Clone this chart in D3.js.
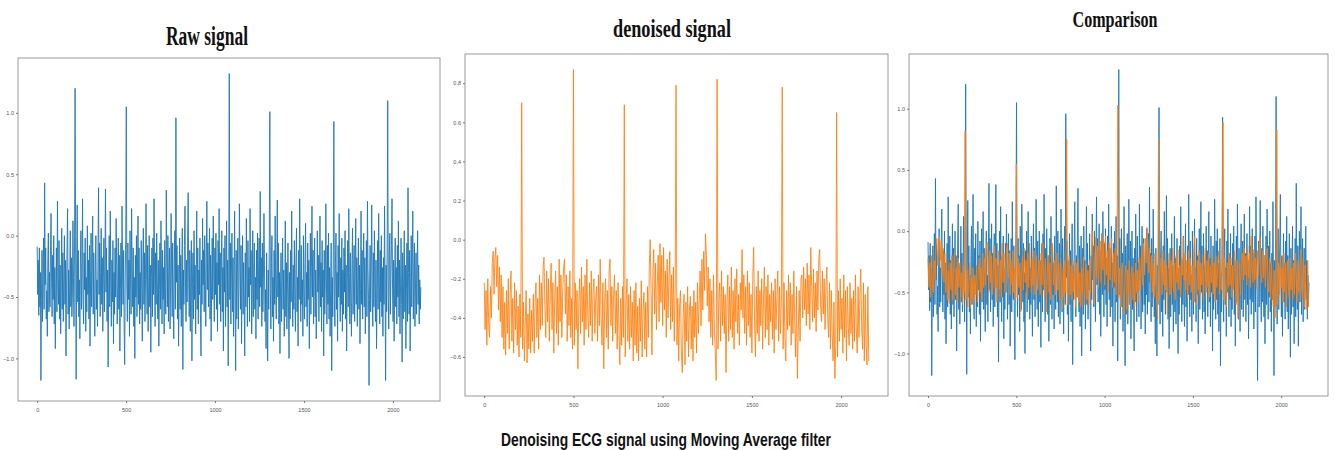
<!DOCTYPE html>
<html>
<head>
<meta charset="utf-8">
<script src="https://cdn.jsdelivr.net/npm/d3@7"></script>
<style>
  html, body { margin: 0; padding: 0; background: #ffffff; }
  svg { display: block; }
</style>
</head>
<body>
<svg id="chart" width="1335" height="450"></svg>
<script>
// ---------------- DATA ----------------
// Raw ECG signal (one value every rawStep samples)
const rawStep = 3;
const rawSignal = [
  -0.09,-0.48,-0.20,-0.65,-0.10,-0.58,-0.30,-1.18,-0.52,-0.12,-0.70,-0.28,-0.02,-0.60,0.43,-0.40,-0.10,-0.68,-0.45,-0.82,-0.18,0.02,-0.62,-0.30,
  -0.58,-0.08,0.18,-0.38,-0.66,-0.16,-0.52,0.00,-0.72,-0.26,-0.92,-0.44,-0.10,-0.62,0.28,-0.34,-0.56,-0.04,-0.68,-0.24,-0.80,-0.40,0.06,-0.60,
  -0.14,-0.70,-0.32,0.00,-0.56,-0.20,-0.98,-0.44,-0.08,0.22,-0.64,-0.28,-0.76,-0.38,0.04,-0.58,-0.18,-0.66,-0.46,0.12,-0.34,-0.74,-0.06,1.20,
  0.00,-1.17,-0.28,0.25,-0.54,-0.12,-0.66,-0.36,-0.84,-0.20,0.04,-0.60,-0.30,0.30,-0.54,-0.72,-0.14,-0.44,-0.02,-0.78,-0.34,-0.62,0.08,-0.48,
  -0.20,-0.68,-0.08,-0.90,-0.40,0.02,-0.58,-0.26,0.16,-0.64,-0.14,-0.52,-0.82,-0.24,0.00,-0.60,-0.36,-0.74,-0.12,0.39,-0.48,-0.06,-0.66,-0.30,
  0.06,-0.56,-0.18,-0.78,-0.34,-0.02,-0.62,-0.24,0.38,-0.46,-0.10,-0.70,-0.28,-1.07,-0.38,0.00,-0.58,0.20,-0.40,-0.74,-0.20,-0.54,-0.04,-0.88,
  -0.30,-0.64,-0.10,-0.50,0.14,-0.24,-0.72,-0.38,-0.02,-0.60,-0.16,-0.94,-0.44,-0.06,-0.66,0.24,-0.28,-0.56,-0.12,-0.76,-1.05,-0.34,0.00,1.05,
  -0.40,-0.70,-0.06,-0.52,-0.20,-0.82,0.04,-0.36,-0.64,0.22,-0.28,-0.58,-0.10,-0.74,-0.34,-1.00,-0.16,-0.50,0.00,-0.66,-0.24,0.16,-0.56,-0.10,
  -0.72,-0.30,-0.60,-0.04,-0.44,-0.86,-0.20,0.06,-0.56,-0.14,-0.70,-0.36,0.26,-0.28,-0.64,-0.08,-0.78,-0.40,0.00,-0.58,-0.24,-0.95,-0.34,-0.10,
  -0.66,-0.02,-0.48,0.30,-0.28,-0.74,-0.14,-0.56,0.02,-0.38,-0.68,-0.20,-0.90,-0.44,-0.06,-0.60,0.12,-0.32,-0.72,-0.12,-0.52,-0.26,-0.80,-0.04,
  -0.40,-0.64,0.37,-0.22,-0.58,0.00,-0.70,-0.30,-0.10,-0.76,-0.42,0.18,-0.28,-0.66,-0.06,-0.52,-0.84,-0.20,0.04,-0.60,0.96,-0.38,-0.08,-0.68,
  -0.24,-0.90,-0.46,-0.02,-0.60,-0.16,-0.74,-0.34,0.06,-1.09,-0.28,-0.56,-0.08,0.24,-0.42,-0.70,-0.20,-0.54,0.00,0.35,-0.38,-0.66,-0.12,-0.78,
  -0.30,-0.04,-1.02,-0.40,-0.14,-0.68,0.04,-0.52,-0.24,-0.80,-0.36,0.20,-0.60,-0.10,-0.72,-0.28,-0.48,-0.02,-0.64,-0.98,-0.20,-0.56,0.14,-0.40,
  -0.12,-0.62,0.00,-0.34,-0.74,-0.18,0.28,-0.44,-0.06,-0.58,-0.26,0.06,-0.68,-0.16,-0.86,-0.38,-0.02,-0.52,0.16,-0.28,-0.70,-0.10,-0.48,0.02,
  -0.60,-0.22,-0.78,-0.04,-0.40,0.22,-0.56,-0.14,-0.70,-0.32,0.04,-0.62,-0.26,-0.94,-0.10,-0.46,0.00,-0.74,-0.34,0.12,-0.58,-0.20,-1.06,-0.36,
  1.32,-0.52,-0.06,-0.72,-0.28,0.02,-0.62,-0.18,-0.82,-0.40,0.20,-0.54,-1.10,-0.12,-0.68,-0.32,-0.02,-0.76,-0.44,0.26,-0.24,-0.60,-0.08,-0.88,
  -0.36,0.00,-0.64,-0.22,-0.54,-0.98,-0.14,-0.58,0.14,-0.34,-0.74,-0.04,-0.50,-0.26,-0.70,0.22,-0.40,-0.12,-0.80,-0.48,0.04,-0.66,-0.28,-0.06,
  -0.60,-0.34,-0.84,-0.12,-0.52,0.02,-0.68,-0.28,-0.02,-0.58,0.36,-0.42,-0.18,-0.74,-0.06,-0.62,-0.36,0.18,-0.24,-0.70,-0.44,-0.92,-0.14,-0.56,
  -1.02,-0.28,-0.60,-0.08,1.01,-0.44,-0.76,-0.22,0.00,-0.66,-0.34,-0.86,-0.12,-0.56,0.16,-0.40,-0.68,-0.26,0.29,-0.50,-0.06,-0.72,-0.30,-0.96,
  -0.46,-0.14,-0.70,-0.36,-0.02,-0.60,-0.28,-0.82,-0.48,0.12,-0.66,-0.22,-0.76,-0.40,-0.06,-0.58,-1.00,-0.30,-0.68,-0.12,-0.54,0.20,-0.44,-0.74,
  -0.24,-0.60,-0.04,-0.50,-0.78,-0.20,0.06,-0.62,-0.34,-0.90,-0.12,-0.52,0.30,-0.28,-0.70,-0.08,-0.56,-0.36,-0.82,0.00,-0.46,-0.68,-0.22,0.10,
  -0.58,-0.30,-0.74,-0.06,-0.52,-0.20,-0.92,-0.40,0.02,-0.64,-0.26,0.24,-0.50,-0.12,-0.72,-0.34,-0.02,-0.66,-0.28,-0.84,-0.54,0.04,-0.46,-0.16,
  -0.70,-0.36,0.16,-0.58,-0.22,-0.78,-0.04,-0.50,-0.28,-0.98,-0.12,-0.64,-0.38,0.26,-0.32,-0.72,-0.08,-0.56,0.02,-0.68,-0.26,-0.82,-0.44,-0.06,
  -1.10,-0.34,-0.66,-0.12,0.93,-0.52,-0.74,-0.22,0.02,-0.60,-0.30,-0.86,-0.08,-0.50,0.18,-0.38,-0.70,-0.18,-0.56,-0.02,-0.78,-0.28,-0.64,-0.10,
  -0.46,0.04,-0.68,-0.24,-0.94,-0.36,-0.04,-0.58,0.22,-0.30,-0.72,-0.14,-0.52,-0.82,-0.22,0.06,-0.64,-0.40,-0.08,-0.70,-0.28,0.14,-0.56,-0.18,
  -0.74,-0.34,-0.02,-0.60,-0.24,-0.88,-0.44,0.20,-0.56,-0.12,-0.68,-0.30,0.02,-0.58,-0.18,-0.80,-0.38,-0.04,-0.66,0.28,-0.26,-0.52,-1.22,-0.40,
  -0.08,-0.62,-0.24,0.25,-0.50,-0.74,-0.14,-0.58,0.04,-0.36,-0.70,-0.20,-0.92,-0.44,-0.04,-0.60,0.18,-0.30,-0.72,-0.12,-0.54,0.00,-0.66,-0.26,
  -0.82,-0.18,-0.56,0.24,-0.36,-1.18,-0.24,-0.62,-0.06,1.10,-0.52,-0.76,-0.14,0.02,-0.64,-0.32,-0.08,0.30,-0.44,-0.70,-0.20,-0.86,-0.38,-0.02,
  -0.58,-0.26,-0.72,-0.08,-0.50,0.12,-0.66,-0.20,-0.80,-0.40,-0.02,-0.56,-1.03,-0.14,-0.68,-0.32,0.04,-0.62,-0.24,-0.92,-0.44,-0.06,-0.70,0.39,
  -0.30,-0.64,-0.12,-0.94,-0.40,0.00,-0.58,-0.20,0.20,-0.68,-0.32,-0.06,-0.74,-0.44,-0.14,-0.64,-0.28,0.04,-0.56,-0.24,-0.72,-0.36,-0.60,-0.42
];

// Moving-average denoised signal (one value every denoisedStep samples)
const denoisedStep = 5;
const denoisedSignal = [
  -0.22,-0.46,-0.26,-0.54,-0.20,-0.44,-0.50,-0.24,-0.40,-0.12,-0.06,-0.28,-0.09,-0.04,-0.24,-0.08,-0.36,-0.14,
  -0.42,-0.18,-0.50,-0.24,-0.56,-0.32,-0.59,-0.26,-0.48,-0.20,-0.56,-0.30,-0.16,-0.52,-0.30,-0.58,-0.22,-0.46,
  -0.26,-0.54,-0.34,-0.60,-0.28,-0.50,0.70,-0.56,-0.32,-0.62,-0.42,-0.26,-0.63,-0.38,-0.56,-0.30,-0.58,-0.36,
  -0.52,-0.28,-0.58,-0.32,-0.22,-0.50,-0.30,-0.56,-0.18,-0.46,-0.22,-0.44,-0.14,-0.09,-0.34,-0.50,-0.16,-0.42,
  -0.20,-0.52,-0.26,-0.12,-0.46,-0.22,-0.58,-0.30,-0.16,-0.48,-0.24,-0.54,-0.10,-0.42,-0.18,-0.50,-0.26,-0.14,
  -0.10,-0.38,-0.18,-0.52,-0.24,-0.44,-0.16,-0.50,-0.30,-0.56,0.87,-0.54,-0.22,-0.46,-0.26,-0.66,-0.32,-0.20,
  -0.48,-0.14,-0.42,-0.24,-0.54,-0.18,-0.46,-0.10,-0.38,-0.50,-0.22,-0.44,-0.16,-0.52,-0.26,-0.20,-0.48,-0.30,
  -0.24,-0.52,-0.18,-0.44,-0.10,-0.40,-0.54,-0.22,-0.66,-0.32,-0.20,-0.50,-0.26,-0.56,-0.16,-0.10,-0.44,-0.24,
  -0.52,-0.28,-0.18,-0.48,-0.26,-0.56,-0.22,-0.46,-0.64,-0.30,-0.54,-0.24,-0.50,0.69,-0.60,-0.32,-0.20,-0.52,
  -0.28,-0.56,-0.24,-0.50,-0.32,-0.62,-0.26,-0.54,-0.22,-0.58,-0.34,-0.62,-0.30,-0.52,-0.21,-0.60,-0.36,-0.27,
  -0.56,-0.32,-0.60,-0.24,-0.50,-0.14,0.00,-0.26,-0.59,-0.18,-0.05,-0.38,-0.12,-0.46,-0.22,-0.08,-0.42,-0.02,
  -0.32,-0.08,-0.44,-0.04,-0.36,-0.16,-0.50,-0.10,-0.40,-0.20,-0.06,-0.46,-0.18,-0.42,-0.14,-0.52,-0.26,0.79,
  -0.54,-0.30,-0.62,-0.34,-0.26,-0.58,-0.68,-0.38,-0.28,-0.64,-0.32,-0.52,-0.24,-0.60,-0.36,-0.29,-0.56,-0.34,
  -0.62,-0.26,-0.50,-0.32,-0.58,-0.22,-0.48,-0.30,-0.16,-0.44,-0.10,-0.36,-0.06,-0.26,0.03,-0.08,-0.34,-0.14,
  -0.42,-0.20,-0.50,-0.26,-0.54,-0.18,-0.46,-0.58,-0.72,0.82,-0.56,-0.30,-0.22,-0.52,-0.16,-0.44,-0.24,-0.48,
  -0.28,-0.68,-0.32,-0.18,-0.52,-0.24,-0.46,-0.14,-0.50,-0.26,-0.56,-0.20,-0.42,-0.15,-0.48,-0.28,-0.54,-0.22,
  -0.36,-0.05,-0.40,-0.18,-0.48,-0.24,-0.54,-0.16,-0.44,-0.22,-0.50,-0.28,-0.58,-0.20,-0.04,-0.42,-0.60,-0.24,
  -0.48,-0.16,-0.52,-0.26,-0.44,-0.20,-0.56,-0.30,-0.14,-0.50,-0.24,-0.46,-0.18,-0.54,-0.28,-0.42,-0.22,-0.51,
  -0.26,-0.58,-0.20,-0.46,-0.30,-0.16,-0.52,-0.24,-0.48,-0.32,0.78,-0.56,-0.22,-0.50,-0.62,-0.26,-0.46,-0.18,
  -0.44,-0.22,-0.54,-0.28,-0.48,-0.16,-0.42,-0.60,-0.24,-0.71,-0.46,-0.26,-0.52,-0.20,-0.18,-0.40,-0.14,-0.36,
  -0.20,-0.44,-0.12,-0.38,-0.18,-0.46,-0.04,-0.24,-0.42,-0.15,-0.40,-0.22,-0.47,-0.16,-0.36,-0.10,-0.05,-0.34,
  -0.42,-0.16,-0.38,-0.20,-0.46,-0.24,-0.14,-0.40,-0.50,-0.22,-0.56,-0.26,-0.48,-0.62,-0.32,-0.71,-0.54,0.65,
  -0.60,-0.26,-0.52,-0.20,-0.46,-0.30,-0.58,-0.18,-0.50,-0.26,-0.62,-0.24,-0.44,-0.54,-0.22,-0.48,-0.30,-0.56,
  -0.26,-0.52,-0.18,-0.46,-0.58,-0.24,-0.50,-0.30,-0.15,-0.44,-0.56,-0.22,-0.62,-0.28,-0.54,-0.64,-0.24,-0.62
];

// R-peak slots in the denoised series and their heights as seen in the comparison panel
const peakSlots = [42, 100, 157, 215, 261, 334, 395];
const comparisonPeakValues = [0.82, 0.55, 0.75, 1.03, 0.75, 0.89, 0.83];

const xTicks = [0, 500, 1000, 1500, 2000];
const rawYTicks = [-1.0, -0.5, 0.0, 0.5, 1.0];
const denoisedYTicks = [-0.6, -0.4, -0.2, 0.0, 0.2, 0.4, 0.6, 0.8];
const panelTitles = ["Raw signal", "denoised signal", "Comparison"];
const caption = "Denoising ECG signal using Moving Average filter";

// ---------------- BUILD ----------------
const toPoints = (arr, step) => arr.map((v, i) => ({ x: i * step, y: v }));
const rawPts = toPoints(rawSignal, rawStep);
const denPts = toPoints(denoisedSignal, denoisedStep);
const cmpDenoised = denoisedSignal.map((v, i) => {
  const k = peakSlots.indexOf(i);
  return k >= 0 ? comparisonPeakValues[k] : v;
});
const cmpDenPts = toPoints(cmpDenoised, denoisedStep);

const BLUE = "#1f77b4", ORANGE = "#ff7f0e";

const panels = [
  { frame: { l: 18, r: 440, t: 58, b: 401 }, series: [{ pts: rawPts, color: BLUE, w: 0.9 }], yTicks: rawYTicks,
    title: { text: panelTitles[0], cx: 207, y: 45, size: 27, len: 82 } },
  { frame: { l: 465, r: 888, t: 54, b: 396 }, series: [{ pts: denPts, color: ORANGE, w: 0.85 }], yTicks: denoisedYTicks,
    title: { text: panelTitles[1], cx: 672, y: 37, size: 25, len: 118 } },
  { frame: { l: 909, r: 1328, t: 54, b: 396 }, series: [{ pts: rawPts, color: BLUE, w: 0.9 }, { pts: cmpDenPts, color: ORANGE, w: 0.9 }], yTicks: rawYTicks,
    title: { text: panelTitles[2], cx: 1115, y: 27, size: 23, len: 85 } }
];

const svg = d3.select("#chart");
const fmt = d3.format(".1f");

panels.forEach((p, pi) => {
  const f = p.frame;
  const all = p.series.flatMap(s => s.pts);
  const xMax = d3.max(all, d => d.x);
  const xm = xMax * 0.05;
  const yExt = d3.extent(all, d => d.y);
  const ym = (yExt[1] - yExt[0]) * 0.05;
  const x = d3.scaleLinear().domain([-xm, xMax + xm]).range([f.l, f.r]);
  const y = d3.scaleLinear().domain([yExt[0] - ym, yExt[1] + ym]).range([f.b, f.t]);

  const g = svg.append("g");
  const clipId = "clip" + pi;
  g.append("clipPath").attr("id", clipId).append("rect")
    .attr("x", f.l).attr("y", f.t).attr("width", f.r - f.l).attr("height", f.b - f.t);

  const line = d3.line().x(d => x(d.x)).y(d => y(d.y));
  p.series.forEach(s => {
    g.append("path").datum(s.pts)
      .attr("clip-path", `url(#${clipId})`)
      .attr("fill", "none").attr("stroke", s.color).attr("stroke-width", s.w)
      .attr("stroke-linejoin", "round")
      .attr("d", line);
  });

  // frame
  g.append("rect").attr("x", f.l).attr("y", f.t).attr("width", f.r - f.l).attr("height", f.b - f.t)
    .attr("fill", "none").attr("stroke", "#9a9a9a").attr("stroke-width", 1);

  // axes
  const xAxis = d3.axisBottom(x).tickValues(xTicks).tickSize(2).tickPadding(5).tickFormat(d3.format("d"));
  const yAxis = d3.axisLeft(y).tickValues(p.yTicks).tickSize(2).tickPadding(2).tickFormat(fmt);
  const gx = g.append("g").attr("transform", `translate(0,${f.b})`).call(xAxis);
  const gy = g.append("g").attr("transform", `translate(${f.l},0)`).call(yAxis);
  [gx, gy].forEach(a => {
    a.select(".domain").remove();
    a.selectAll(".tick line").attr("stroke", "#777");
    a.selectAll(".tick text").attr("fill", "#555").style("font-family", "Liberation Sans, Arial, sans-serif").style("font-size", "5.5px");
  });

  // title
  const t = p.title;
  svg.append("text").attr("x", t.cx).attr("y", t.y).attr("text-anchor", "middle")
    .style("font-family", "Liberation Serif, Times New Roman, serif").style("font-weight", "bold")
    .style("font-size", t.size + "px").attr("fill", "#111")
    .attr("textLength", t.len).attr("lengthAdjust", "spacingAndGlyphs")
    .text(t.text);
});

svg.append("text").attr("x", 666).attr("y", 446).attr("text-anchor", "middle")
  .style("font-family", "Liberation Sans, Arial, sans-serif").style("font-weight", "bold")
  .style("font-size", "19px").attr("fill", "#111")
  .attr("textLength", 330).attr("lengthAdjust", "spacingAndGlyphs")
  .text(caption);
</script>
</body>
</html>
